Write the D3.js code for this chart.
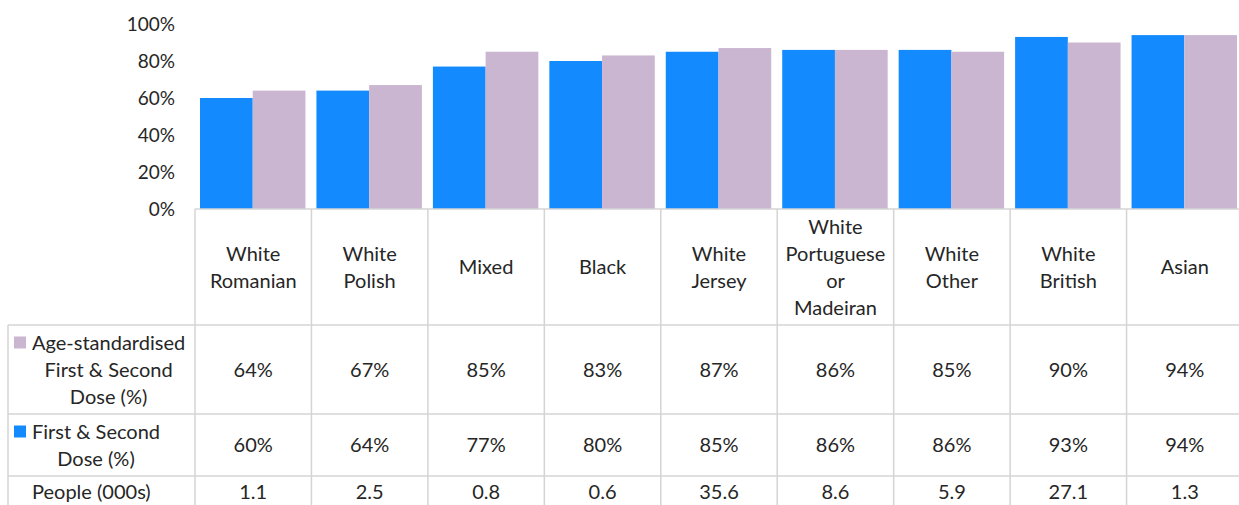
<!DOCTYPE html>
<html>
<head>
<meta charset="utf-8">
<script src="https://cdn.jsdelivr.net/npm/d3@7"></script>
<style>
  body { margin: 0; background: #fff; }
  svg { display: block; font-family: Lato, "Open Sans", sans-serif; }
</style>
</head>
<body>
<div class="chart"></div>
<script>
const w = 1239;
const h = 505;

// data
const categories = [
  ["White", "Romanian"],
  ["White", "Polish"],
  ["Mixed"],
  ["Black"],
  ["White", "Jersey"],
  ["White", "Portuguese", "or", "Madeiran"],
  ["White", "Other"],
  ["White", "British"],
  ["Asian"]
];
const firstSecond = [60, 64, 77, 80, 85, 86, 86, 93, 94];
const ageStandardised = [64, 67, 85, 83, 87, 86, 85, 90, 94];
const people = ["1.1", "2.5", "0.8", "0.6", "35.6", "8.6", "5.9", "27.1", "1.3"];
const yTicks = [0, 20, 40, 60, 80, 100];

const blue = "#138bff";
const lilac = "#cab6d1";
const gridColor = "#d4d4d4";
const textColor = "#262626";

const plotLeft = 195;
const plotRight = 1243;
const plotTop = 24;
const base = 209;
// table row boundaries
const rowY = [209, 325, 414, 476, 512];
const tableLeft = 8;

const svg = d3
  .select(".chart")
  .append("svg")
  .attr("width", w)
  .attr("height", h);

const xScale = d3
  .scaleBand()
  .domain(d3.range(categories.length))
  .range([plotLeft, plotRight]);

const bw = xScale.bandwidth();
const xSub = d3
  .scaleBand()
  .domain(["first", "age"])
  .range([5, bw - 6]);

const yScale = d3.scaleLinear().domain([0, 100]).range([base, plotTop]);

// y axis
const yAxis = d3
  .axisLeft(yScale)
  .tickValues(yTicks)
  .tickSize(0)
  .tickPadding(20)
  .tickFormat((d) => d + "%");

const yG = svg
  .append("g")
  .attr("transform", `translate(${plotLeft},0)`)
  .call(yAxis);
yG.select(".domain").remove();
yG.selectAll("text")
  .attr("fill", textColor)
  .style("font-size", "19px")
  .style("font-family", "Lato, 'Open Sans', sans-serif");

// bars
const groups = svg
  .selectAll(".cat")
  .data(categories.map((c, i) => i))
  .enter()
  .append("g")
  .attr("transform", (i) => `translate(${xScale(i)},0)`);

groups
  .append("rect")
  .attr("x", xSub("first"))
  .attr("width", xSub.bandwidth())
  .attr("y", (i) => yScale(firstSecond[i]))
  .attr("height", (i) => base - yScale(firstSecond[i]))
  .attr("fill", blue);

groups
  .append("rect")
  .attr("x", xSub("age"))
  .attr("width", xSub.bandwidth())
  .attr("y", (i) => yScale(ageStandardised[i]))
  .attr("height", (i) => base - yScale(ageStandardised[i]))
  .attr("fill", lilac);

// table grid
const grid = svg.append("g").attr("stroke", gridColor).attr("stroke-width", 1.5);
grid.append("line").attr("x1", plotLeft).attr("x2", plotRight).attr("y1", base).attr("y2", base);
rowY.slice(1, 4).forEach((y) => {
  grid.append("line").attr("x1", tableLeft).attr("x2", plotRight).attr("y1", y).attr("y2", y);
});
grid.append("line").attr("x1", tableLeft).attr("x2", tableLeft).attr("y1", rowY[1]).attr("y2", h);
d3.range(categories.length + 1).forEach((i) => {
  const x = i < categories.length ? xScale(i) : plotRight;
  grid.append("line").attr("x1", x).attr("x2", x).attr("y1", base).attr("y2", h);
});

const lineH = 27;
const fs = "20px";

// category labels
groups.each(function (i) {
  const lines = categories[i];
  const cy = (rowY[0] + rowY[1]) / 2;
  const t = d3
    .select(this)
    .append("text")
    .attr("text-anchor", "middle")
    .attr("fill", textColor)
    .style("font-size", fs);
  lines.forEach((l, k) => {
    t.append("tspan")
      .attr("x", bw / 2)
      .attr("y", cy + (k - (lines.length - 1) / 2) * lineH)
      .attr("dy", "0.35em")
      .text(l);
  });
});

// value rows
const rows = [
  { label: ["Age-standardised", "First & Second", "Dose (%)"], color: lilac, values: ageStandardised.map((d) => d + "%") },
  { label: ["First & Second", "Dose (%)"], color: blue, values: firstSecond.map((d) => d + "%") },
  { label: ["People (000s)"], color: null, values: people }
];

rows.forEach((r, ri) => {
  const y0 = rowY[ri + 1];
  const y1 = rowY[ri + 2];
  const cy = ri === 2 ? 492 : (y0 + y1) / 2;

  const t = svg
    .append("text")
    .attr("text-anchor", "middle")
    .attr("fill", textColor)
    .style("font-size", fs);
  const spans = r.label.map((l, k) =>
    t.append("tspan")
      .attr("y", cy + (k - (r.label.length - 1) / 2) * lineH)
      .attr("dy", "0.35em")
      .text(l)
  );
  const maxW = d3.max(spans, (s) => s.node().getComputedTextLength());
  spans.forEach((s) => s.attr("x", 32 + maxW / 2));

  if (r.color) {
    svg
      .append("rect")
      .attr("x", 14)
      .attr("y", cy - ((r.label.length - 1) / 2) * lineH - 6)
      .attr("width", 12)
      .attr("height", 12)
      .attr("fill", r.color);
  }

  svg
    .append("g")
    .selectAll("text")
    .data(r.values)
    .enter()
    .append("text")
    .attr("x", (d, i) => xScale(i) + bw / 2)
    .attr("y", cy)
    .attr("dy", "0.35em")
    .attr("text-anchor", "middle")
    .attr("fill", textColor)
    .style("font-size", fs)
    .text((d) => d);
});
</script>
</body>
</html>
